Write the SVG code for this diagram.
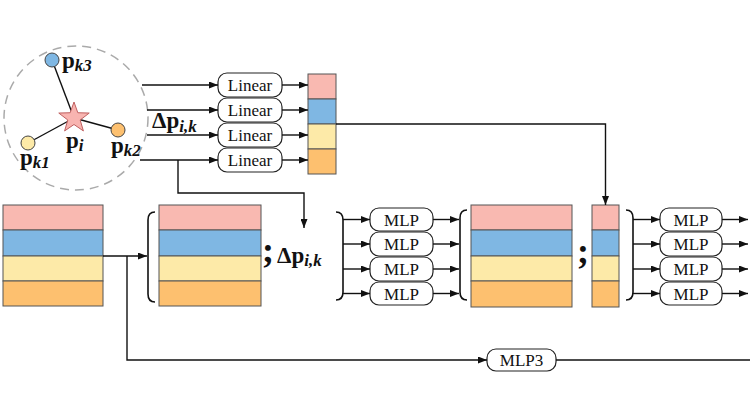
<svg xmlns="http://www.w3.org/2000/svg" width="750" height="400" viewBox="0 0 750 400">
<defs>
<marker id="ah" markerUnits="userSpaceOnUse" markerWidth="9" markerHeight="7" refX="9" refY="3.5" orient="auto">
<path d="M0,0 L9,3.5 L0,7 z" fill="#111"/>
</marker>
<style>
.ln{fill:none;stroke:#111;stroke-width:1.4}
.ar{fill:none;stroke:#111;stroke-width:1.4;marker-end:url(#ah)}
.box{fill:#fff;stroke:#222;stroke-width:1.2}
.bt{font-family:"Liberation Serif",serif;font-size:17px;fill:#111;text-anchor:middle}
.pk{fill:#f9b9b1;stroke:#555;stroke-width:1}
.bl{fill:#7fb7e3;stroke:#555;stroke-width:1}
.ye{fill:#fdeaa8;stroke:#555;stroke-width:1}
.or{fill:#fdc06f;stroke:#555;stroke-width:1}
.mt{font-family:"Liberation Serif",serif;font-weight:bold;font-size:23px;fill:#111}
.sb{font-style:italic;font-size:17px}
.sc{font-family:"Liberation Serif",serif;font-weight:bold;font-size:36px;fill:#111}
.br{fill:none;stroke:#111;stroke-width:1.6}
</style>
</defs>

<g id="neighborhood">
<circle cx="76" cy="118" r="72" fill="none" stroke="#aaa" stroke-width="1.5" stroke-dasharray="9,6"/>
<line class="ln" x1="52" y1="60" x2="74" y2="118" stroke-width="1.2"/>
<line class="ln" x1="28" y1="143" x2="74" y2="118" stroke-width="1.2"/>
<line class="ln" x1="118" y1="130" x2="74" y2="118" stroke-width="1.2"/>
<circle cx="52" cy="60" r="7" fill="#7fb7e3" stroke="#444" stroke-width="1"/>
<circle cx="28" cy="143" r="7" fill="#fdeaa8" stroke="#444" stroke-width="1"/>
<circle cx="118" cy="130" r="7" fill="#fdc06f" stroke="#444" stroke-width="1"/>
<path d="M74,102 L77.82,112.74 L89.22,113.06 L80.18,120.01 L83.4,130.94 L74,124.5 L64.6,130.94 L67.82,120.01 L58.78,113.06 L70.18,112.74 z" fill="#f8b4b0" stroke="#c06060" stroke-width="1"/>
<text class="mt" x="62" y="68">p<tspan class="sb" dy="3">k3</tspan></text>
<text class="mt" x="20" y="165">p<tspan class="sb" dy="3">k1</tspan></text>
<text class="mt" x="111" y="153">p<tspan class="sb" dy="3">k2</tspan></text>
<text class="mt" x="66" y="148">p<tspan class="sb" dy="3">i</tspan></text>
<text class="mt" x="152" y="128">Δp<tspan class="sb" dy="4">i,k</tspan></text>
</g>

<g id="linear1"><rect class="box" x="218" y="73" width="64" height="24" rx="9"/><text class="bt" x="250" y="91">Linear</text></g>
<g id="linear2"><rect class="box" x="218" y="98" width="64" height="24" rx="9"/><text class="bt" x="250" y="116">Linear</text></g>
<g id="linear3"><rect class="box" x="218" y="123" width="64" height="24" rx="9"/><text class="bt" x="250" y="141">Linear</text></g>
<g id="linear4"><rect class="box" x="218" y="148" width="64" height="24" rx="9"/><text class="bt" x="250" y="166">Linear</text></g>

<g id="posbar">
<rect class="pk" x="308" y="74" width="28" height="25"/>
<rect class="bl" x="308" y="99" width="28" height="25"/>
<rect class="ye" x="308" y="124" width="28" height="25"/>
<rect class="or" x="308" y="149" width="28" height="25"/>
</g>

<g id="input">
<rect class="pk" x="3" y="205" width="100" height="25"/>
<rect class="bl" x="3" y="230" width="100" height="26"/>
<rect class="ye" x="3" y="256" width="100" height="25"/>
<rect class="or" x="3" y="281" width="100" height="25"/>
</g>

<g id="concat1">
<path class="br" d="M155,212 Q148,212 148,220 L148,294 Q148,302 155,302"/>
<rect class="pk" x="159" y="205" width="102" height="25"/>
<rect class="bl" x="159" y="230" width="102" height="26"/>
<rect class="ye" x="159" y="256" width="102" height="25"/>
<rect class="or" x="159" y="281" width="102" height="25"/>
<text class="sc" x="262" y="262">;</text>
<text class="mt" x="277" y="263">Δp<tspan class="sb" dy="3">i,k</tspan></text>
<path class="br" d="M336,212 Q343,212 343,220 L343,292 Q343,300 336,300"/>
</g>

<g id="mlp1"><rect class="box" x="370" y="208" width="63" height="23" rx="9"/><text class="bt" x="401.5" y="225.5">MLP</text></g>
<g id="mlp2"><rect class="box" x="370" y="232" width="63" height="24" rx="9"/><text class="bt" x="401.5" y="250">MLP</text></g>
<g id="mlp3"><rect class="box" x="370" y="257" width="63" height="24" rx="9"/><text class="bt" x="401.5" y="275">MLP</text></g>
<g id="mlp4"><rect class="box" x="370" y="282" width="63" height="23" rx="9"/><text class="bt" x="401.5" y="299.5">MLP</text></g>

<g id="concat2">
<path class="br" d="M467,210 Q460,210 460,218 L460,292 Q460,300 467,300"/>
<rect class="pk" x="471" y="205" width="101" height="25"/>
<rect class="bl" x="471" y="230" width="101" height="26"/>
<rect class="ye" x="471" y="256" width="101" height="25"/>
<rect class="or" x="471" y="281" width="101" height="26"/>
<text class="sc" x="577" y="263">;</text>
<rect class="pk" x="592" y="205" width="27" height="25"/>
<rect class="bl" x="592" y="230" width="27" height="26"/>
<rect class="ye" x="592" y="256" width="27" height="25"/>
<rect class="or" x="592" y="281" width="27" height="26"/>
<path class="br" d="M626,210 Q633,210 633,218 L633,292 Q633,300 626,300"/>
</g>

<g id="mlp5"><rect class="box" x="660" y="208" width="62" height="23" rx="9"/><text class="bt" x="691" y="225.5">MLP</text></g>
<g id="mlp6"><rect class="box" x="660" y="232" width="62" height="24" rx="9"/><text class="bt" x="691" y="250">MLP</text></g>
<g id="mlp7"><rect class="box" x="660" y="257" width="62" height="24" rx="9"/><text class="bt" x="691" y="275">MLP</text></g>
<g id="mlp8"><rect class="box" x="660" y="282" width="62" height="23" rx="9"/><text class="bt" x="691" y="299.5">MLP</text></g>

<g id="mlp3node"><rect class="box" x="487" y="349" width="69" height="22" rx="9"/><text class="bt" x="521.5" y="366">MLP3</text></g>

<g id="connectors">
<line class="ar" x1="142" y1="85" x2="218" y2="85"/>
<line class="ar" x1="147" y1="110" x2="218" y2="110"/>
<line class="ar" x1="147" y1="135" x2="218" y2="135"/>
<line class="ar" x1="140" y1="160" x2="218" y2="160"/>
<line class="ar" x1="282" y1="85" x2="308" y2="85"/>
<line class="ar" x1="282" y1="110" x2="308" y2="110"/>
<line class="ar" x1="282" y1="135" x2="308" y2="135"/>
<line class="ar" x1="282" y1="160" x2="308" y2="160"/>
<polyline class="ar" points="336,124 605.5,124 605.5,205"/>
<polyline class="ar" points="178,160 178,193 304,193 304,228"/>
<line class="ar" x1="103" y1="256" x2="147" y2="256"/>
<polyline class="ar" points="127,256 127,360 487,360"/>
<line class="ln" x1="556" y1="360" x2="750" y2="360"/>
<line class="ar" x1="343" y1="219.5" x2="370" y2="219.5"/>
<line class="ar" x1="343" y1="244" x2="370" y2="244"/>
<line class="ar" x1="343" y1="269" x2="370" y2="269"/>
<line class="ar" x1="343" y1="293.5" x2="370" y2="293.5"/>
<line class="ar" x1="433" y1="219.5" x2="459" y2="219.5"/>
<line class="ar" x1="433" y1="244" x2="459" y2="244"/>
<line class="ar" x1="433" y1="269" x2="459" y2="269"/>
<line class="ar" x1="433" y1="293.5" x2="459" y2="293.5"/>
<line class="ar" x1="633" y1="219.5" x2="660" y2="219.5"/>
<line class="ar" x1="633" y1="244" x2="660" y2="244"/>
<line class="ar" x1="633" y1="269" x2="660" y2="269"/>
<line class="ar" x1="633" y1="293.5" x2="660" y2="293.5"/>
<line class="ar" x1="722" y1="219.5" x2="748" y2="219.5"/>
<line class="ar" x1="722" y1="244" x2="748" y2="244"/>
<line class="ar" x1="722" y1="269" x2="748" y2="269"/>
<line class="ar" x1="722" y1="293.5" x2="748" y2="293.5"/>
</g>
</svg>
